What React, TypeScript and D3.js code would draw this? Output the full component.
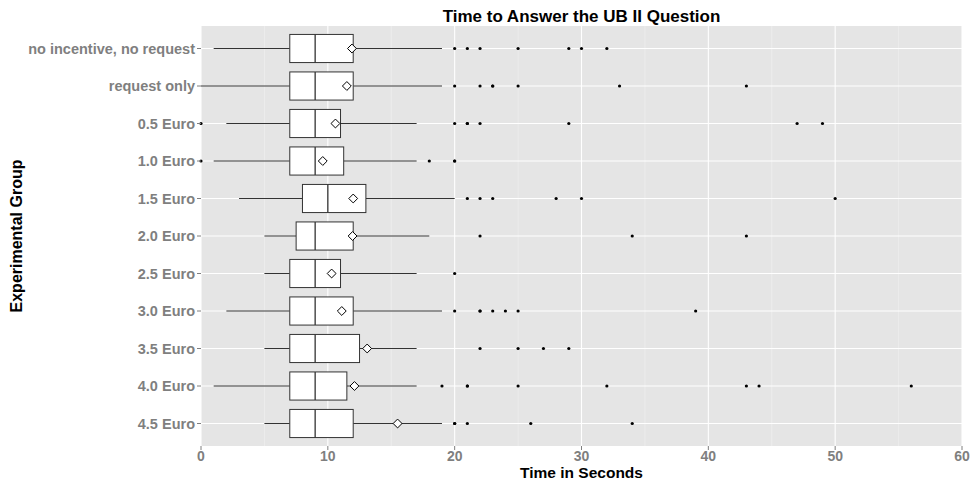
import React from "react";
import * as d3 from "d3";

const categories = [
  "no incentive, no request",
  "request only",
  "0.5 Euro",
  "1.0 Euro",
  "1.5 Euro",
  "2.0 Euro",
  "2.5 Euro",
  "3.0 Euro",
  "3.5 Euro",
  "4.0 Euro",
  "4.5 Euro",
];
const whiskerLow = [1, 0, 2, 1, 3, 5, 5, 2, 5, 1, 5];
const q1 = [7, 7, 7, 7, 8, 7.5, 7, 7, 7, 7, 7];
const medians = [9, 9, 9, 9, 10, 9, 9, 9, 9, 9, 9];
const q3 = [12, 12, 11, 11.25, 13, 12, 11, 12, 12.5, 11.5, 12];
const whiskerHigh = [19, 19, 17, 17, 20, 18, 17, 19, 17, 17, 19];
const means = [11.9, 11.5, 10.6, 9.6, 12, 11.95, 10.3, 11.1, 13.1, 12.1, 15.5];
const outliers = [
  [20, 21, 22, 25, 29, 30, 32],
  [20, 22, 23, 23, 25, 33, 43],
  [0, 20, 21, 21, 22, 29, 47, 49],
  [0, 18, 20, 20],
  [21, 22, 23, 28, 30, 50],
  [22, 34, 43],
  [20],
  [20, 22, 22, 23, 24, 25, 39],
  [22, 25, 27, 29],
  [19, 21, 21, 25, 32, 43, 44, 56],
  [20, 20, 21, 26, 34],
];
const xTicks = [0, 10, 20, 30, 40, 50, 60];
const xMinor = [5, 15, 25, 35, 45, 55];

const W = 971;
const H = 482;
const P = { left: 201, right: 962, top: 26, bottom: 446 };
const FONT = "'Liberation Sans', Arial, Helvetica, sans-serif";

export default function App() {
  const x = d3.scaleLinear().domain([0, 60]).range([P.left, P.right]);
  const y = d3.scalePoint<string>().domain(categories).range([P.top, P.bottom]).padding(0.6);
  const step = y.step();
  const bh = step * 0.75;
  const diamond = d3.symbol().type(d3.symbolDiamond2 ?? d3.symbolDiamond).size(50)();

  return (
    <svg
      width={W}
      height={H}
      style={{ position: "absolute", left: 0, top: 0, display: "block" }}
      fontFamily={FONT}
    >
      <rect x={0} y={0} width={W} height={H} fill="#ffffff" />
      <rect x={P.left} y={P.top} width={P.right - P.left} height={P.bottom - P.top} fill="#E5E5E5" />
      {xMinor.map((t) => (
        <line key={"mn" + t} x1={x(t)} x2={x(t)} y1={P.top} y2={P.bottom} stroke="#F2F2F2" strokeWidth={0.6} />
      ))}
      {xTicks.map((t) => (
        <line key={"mj" + t} x1={x(t)} x2={x(t)} y1={P.top} y2={P.bottom} stroke="#ffffff" strokeWidth={1.1} />
      ))}
      {categories.map((c) => (
        <line key={"hg" + c} x1={P.left} x2={P.right} y1={y(c)} y2={y(c)} stroke="#ffffff" strokeWidth={1.1} />
      ))}

      {categories.map((c, i) => {
        const cy = y(c) as number;
        return (
          <g key={"b" + c}>
            <line x1={x(whiskerLow[i])} x2={x(q1[i])} y1={cy} y2={cy} stroke="#333333" strokeWidth={1} />
            <line x1={x(q3[i])} x2={x(whiskerHigh[i])} y1={cy} y2={cy} stroke="#333333" strokeWidth={1} />
            <rect
              x={x(q1[i])}
              y={cy - bh / 2}
              width={x(q3[i]) - x(q1[i])}
              height={bh}
              fill="#ffffff"
              stroke="#333333"
              strokeWidth={1}
            />
            <line x1={x(medians[i])} x2={x(medians[i])} y1={cy - bh / 2} y2={cy + bh / 2} stroke="#333333" strokeWidth={1.3} />
            {outliers[i].map((v, j) => (
              <circle key={j} cx={x(v)} cy={cy} r={1.6} fill="#000000" />
            ))}
            <path d={diamond as string} transform={`translate(${x(means[i])},${cy})`} fill="#ffffff" stroke="#000000" strokeWidth={1} />
          </g>
        );
      })}

      {categories.map((c) => (
        <g key={"yl" + c}>
          <line x1={P.left - 4} x2={P.left} y1={y(c)} y2={y(c)} stroke="#7F7F7F" strokeWidth={1} />
          <text
            x={P.left - 6}
            y={(y(c) as number) + 5}
            textAnchor="end"
            fontSize={14.5}
            fontWeight="bold"
            fill="#7F7F7F"
          >
            {c}
          </text>
        </g>
      ))}
      {xTicks.map((t) => (
        <g key={"xl" + t}>
          <line x1={x(t)} x2={x(t)} y1={P.bottom} y2={P.bottom + 4} stroke="#7F7F7F" strokeWidth={1} />
          <text x={x(t)} y={461} textAnchor="middle" fontSize={14} fontWeight="bold" fill="#7F7F7F">
            {t}
          </text>
        </g>
      ))}

      <text x={(P.left + P.right) / 2} y={22} textAnchor="middle" fontSize={17} fontWeight="bold" fill="#000000">
        Time to Answer the UB II Question
      </text>
      <text x={(P.left + P.right) / 2} y={478} textAnchor="middle" fontSize={15.5} fontWeight="bold" fill="#000000">
        Time in Seconds
      </text>
      <text
        transform={`translate(22,${(P.top + P.bottom) / 2}) rotate(-90)`}
        textAnchor="middle"
        fontSize={16}
        fontWeight="bold"
        fill="#000000"
      >
        Experimental Group
      </text>
    </svg>
  );
}
